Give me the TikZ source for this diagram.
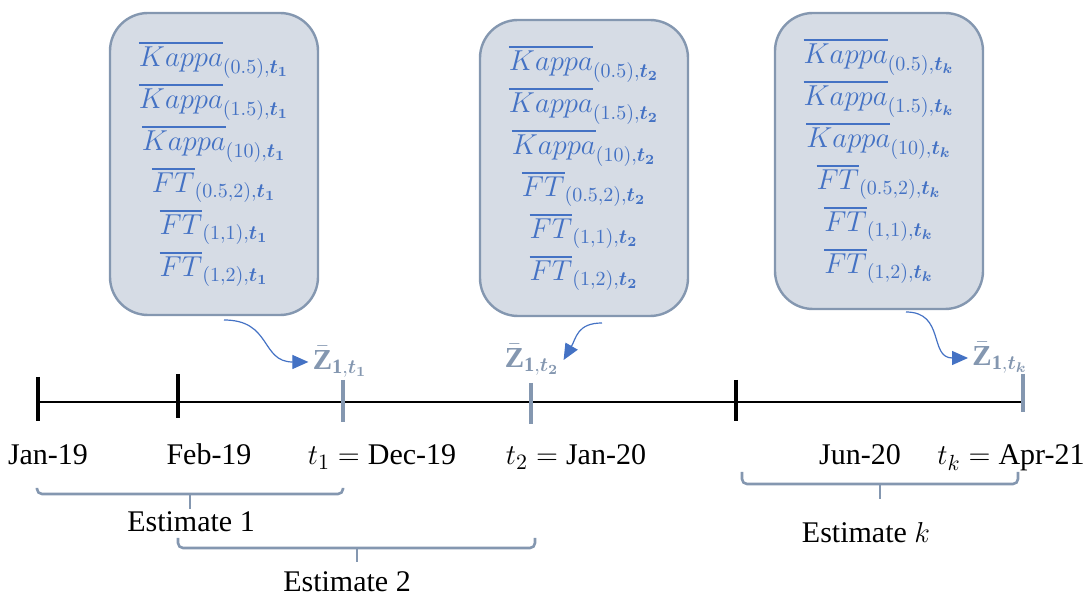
\documentclass[tikz,border=0pt]{standalone}
\usepackage{amsmath}
\usepackage{amssymb}
\usepackage{fontspec}
\setmainfont{Liberation Serif}
\usepackage{tikz}
\usetikzlibrary{arrows.meta,positioning,calc}
\definecolor{dfblue}{RGB}{68,114,196}
\definecolor{dfslate}{RGB}{132,151,176}
\definecolor{dfslatelight}{RGB}{214,220,229}
\tikzstyle{arrow} = [line width=0.6pt,-{Triangle[length=8pt,width=7pt]},color=dfblue]
\tikzstyle{valuebox} = [rectangle, rounded corners=19pt, minimum width=104pt, minimum height=151pt, draw=dfslate, fill=dfslatelight, line width=1.2pt, text=dfblue, align=center, font=\fontsize{14.5}{21}\selectfont]
\tikzstyle{blacktick} = [line width=2pt, black]
\tikzstyle{slatetick} = [line width=2pt, dfslate]
\tikzstyle{datelabel} = [inner sep=0pt, anchor=base, font=\fontsize{15}{18}\selectfont]
\tikzstyle{estbrace} = [line width=1.3pt, dfslate, rounded corners=2.5pt]
\tikzstyle{zlabel} = [text=dfslate, inner sep=2pt, font=\fontsize{14.5}{16}\selectfont]
\newcommand{\kapline}[2]{$\overline{Kappa}_{(#1),\boldsymbol{t_{#2}}}$}
\newcommand{\ftline}[2]{$\overline{FT}_{(#1),\boldsymbol{t_{#2}}}$}
\newcommand{\zbar}[1]{$\bar{\mathbf{Z}}_{\mathbf{1},\boldsymbol{t_{#1}}}$}

\begin{document}
\begin{tikzpicture}[x=0.5pt, y=-0.5pt]
\useasboundingbox (0,0) rectangle (1084,597);

% Boxes
\node[valuebox] (box1) at (214,164) {\kapline{0.5}{1}\\ \kapline{1.5}{1}\\ \kapline{10}{1}\\ \ftline{0.5,2}{1}\\ \ftline{1,1}{1}\\ \ftline{1,2}{1}};
\node[valuebox, minimum height=148pt] (box2) at (584,168) {\kapline{0.5}{2}\\ \kapline{1.5}{2}\\ \kapline{10}{2}\\ \ftline{0.5,2}{2}\\ \ftline{1,1}{2}\\ \ftline{1,2}{2}};
\node[valuebox, minimum height=148pt] (boxk) at (879,161) {\kapline{0.5}{k}\\ \kapline{1.5}{k}\\ \kapline{10}{k}\\ \ftline{0.5,2}{k}\\ \ftline{1,1}{k}\\ \ftline{1,2}{k}};

% Timeline
\coordinate (tl-start) at (38,402);
\coordinate (tl-end) at (1023,402);
\draw[line width=0.7pt] (tl-start) -- (tl-end);
\draw[blacktick] (38,377) -- (38,421);
\draw[blacktick] (178,374) -- (178,418);
\draw[blacktick] (736,380) -- (736,421);
\draw[slatetick] (343,380) -- (343,422);
\draw[slatetick] (531,383) -- (531,424);
\draw[slatetick] (1023,374) -- (1023,412);

% Dates
\node[datelabel] (jan19) at (48,465) {Jan-19};
\node[datelabel] (feb19) at (209,465) {Feb-19};
\node[datelabel] (dec19) at (382,465) {$t_1 = \text{Dec-19}$};
\node[datelabel] (jan20) at (576,465) {$t_2 = \text{Jan-20}$};
\node[datelabel] (jun20) at (860,465) {Jun-20};
\node[datelabel] (apr21) at (1011,465) {$t_k = \text{Apr-21}$};

% Estimates
\draw[estbrace] (37,488) |- (343,494) -- (343,488);
\draw[estbrace] (190,494) -- (190,509);
\node[datelabel] (est1) at (191,532) {Estimate 1};
\draw[estbrace] (178,538) |- (535,548) -- (535,538);
\draw[estbrace] (357,548) -- (357,562);
\node[datelabel] (est2) at (347,592) {Estimate 2};
\draw[estbrace] (742,472) |- (1018,484) -- (1018,472);
\draw[estbrace] (880,484) -- (880,499);
\node[datelabel] (estk) at (866,543) {Estimate $k$};

% Averages
\node[zlabel] (z1) at (340,362) {\zbar{1}};
\node[zlabel] (z2) at (532,360) {\zbar{2}};
\node[zlabel] (zk) at (1000,358) {\zbar{k}};
\coordinate (a1) at (224,320);
\coordinate (a2) at (602,323);
\coordinate (ak) at (906,312);
\draw[arrow] (a1) to[out=0, in=180, looseness=1.3] (z1.west);
\draw[arrow] (a2) to[out=180, in=60, looseness=1.2] (z2.east);
\draw[arrow] (ak) to[out=0, in=180, looseness=1.3] (zk.west);
\end{tikzpicture}
\end{document}
